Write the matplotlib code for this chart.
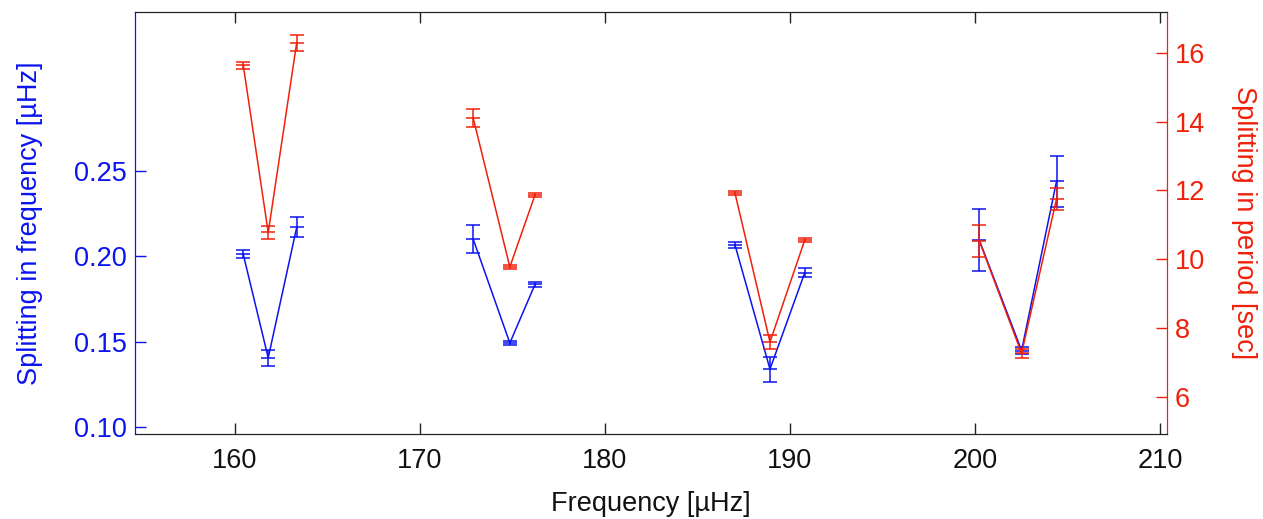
import matplotlib.pyplot as plt
import numpy as np

plt.rcParams['font.family'] = ['Liberation Sans', 'DejaVu Sans']

# frequencies of the multiplet components [uHz], one list per multiplet
freq = [[160.45, 161.8, 163.34],
        [172.88, 174.86, 176.22],
        [187.03, 188.92, 190.8],
        [200.23, 202.52, 204.41]]

# splitting in frequency [uHz]
split_f = [[0.2012, 0.1405, 0.2170],
           [0.2100, 0.1492, 0.1835],
           [0.2066, 0.1339, 0.1904],
           [0.2096, 0.1448, 0.2440]]
split_f_err = [[0.0022, 0.0045, 0.0059],
               [0.0083, 0.0010, 0.0015],
               [0.0020, 0.0073, 0.0027],
               [0.0180, 0.0020, 0.0149]]

# splitting in period [sec]
split_p = [[15.64, 10.78, 16.29],
           [14.10, 9.78, 11.87],
           [11.92, 7.60, 10.56],
           [10.54, 7.27, 11.76]]
split_p_err = [[0.10, 0.20, 0.23],
               [0.27, 0.06, 0.07],
               [0.05, 0.20, 0.06],
               [0.46, 0.12, 0.32]]

blue = '#0a14f0'
red = '#f0200a'
fs = 19.5
lw = 1.1

fig = plt.figure(figsize=(12.63, 5.19), dpi=100)
ax = fig.add_axes([0.1069, 0.1638, 0.9237 - 0.1069, 0.9775 - 0.1638])
ax2 = ax.twinx()

for i in range(len(freq)):
    ax.errorbar(freq[i], split_f[i], yerr=split_f_err[i], color=blue, lw=lw,
                elinewidth=lw, capsize=5, capthick=lw, marker='_', ms=10, mew=lw)
    ax2.errorbar(freq[i], split_p[i], yerr=split_p_err[i], color=red, lw=lw,
                 elinewidth=lw, capsize=5, capthick=lw, marker='_', ms=10, mew=lw)

ax.set_xlim(154.6, 210.36)
ax.set_ylim(0.0959, 0.3433)
ax2.set_ylim(4.93, 17.19)

ax.set_xticks([160, 170, 180, 190, 200, 210])
ax.set_yticks([0.10, 0.15, 0.20, 0.25])
ax.set_yticklabels(['0.10', '0.15', '0.20', '0.25'])
ax2.set_yticks([6, 8, 10, 12, 14, 16])

ax.tick_params(axis='x', direction='in', length=8, width=1, colors='#222222',
               labelsize=fs, top=True, pad=10, labelcolor='#111111')
ax.tick_params(axis='y', direction='in', length=8, width=1, colors=blue,
               labelsize=fs, pad=6)
ax2.tick_params(axis='y', direction='in', length=8, width=1, colors=red,
                labelsize=fs, pad=6)

for a in (ax, ax2):
    a.spines['top'].set_color('#222222')
    a.spines['bottom'].set_color('#222222')
    a.spines['left'].set_color(blue)
    a.spines['right'].set_color(red)

ax.set_xlabel('Frequency [µHz]', fontsize=fs, color='#111111', labelpad=12)
ax.set_ylabel('Splitting in frequency [µHz]', fontsize=fs, color=blue, labelpad=22)
ax2.set_ylabel('Splitting in period [sec]', fontsize=fs, color=red,
               rotation=270, labelpad=37)

fig.savefig('out.png', dpi=100)
